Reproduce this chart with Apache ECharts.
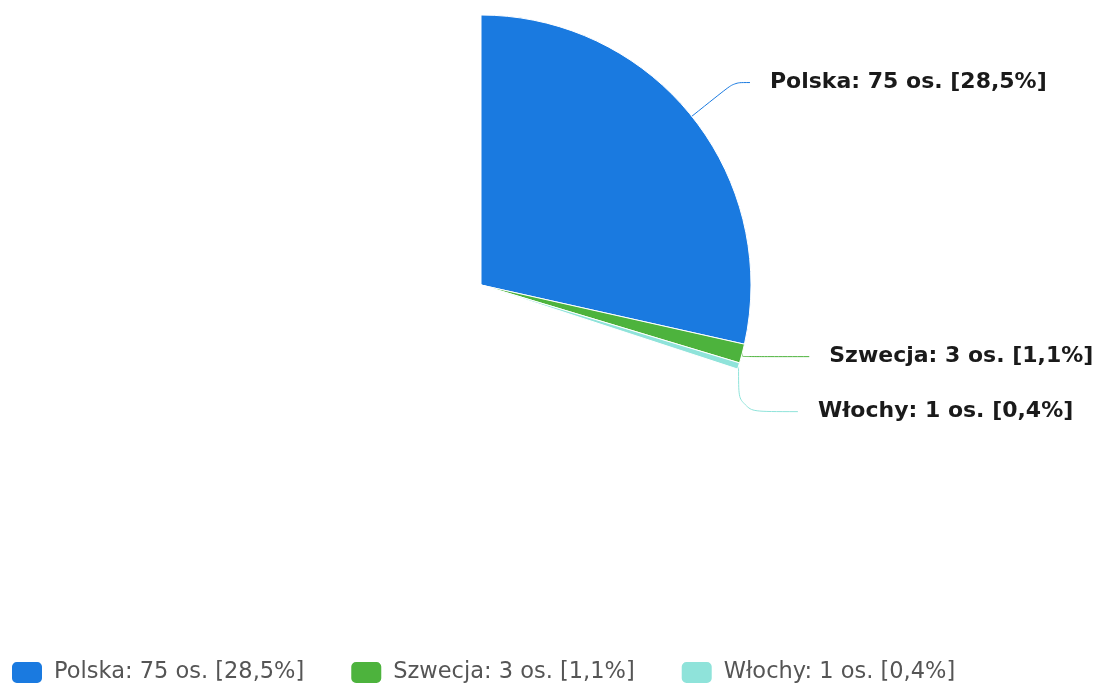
<!DOCTYPE html>
<html>
<head>
<meta charset="utf-8">
<script src="https://cdn.jsdelivr.net/npm/echarts@6/dist/echarts.min.js"></script>
<style>
html,body{margin:0;padding:0;background:#fff;}
#chart{width:1097px;height:689px;}
</style>
</head>
<body>
<div id="chart"></div>
<script>
// Data
const categories = ['Polska', 'Szwecja', 'Włochy'];
const values = [75, 3, 1];
const totalRespondents = 263; // total on which percentages are computed
const colors = ['#1a7ae0', '#4db33d', '#8fe3da'];
const labelLineLengths = [54, 12, 20];
const labelLineLengths2 = [16, 75, 76];

const fmtPct = v => (v * 100 / totalRespondents).toFixed(1).replace('.', ',');
const labelText = (name, v) => name + ': ' + v + ' os. [' + fmtPct(v) + '%]';

const restValue = totalRespondents - values.reduce((a, b) => a + b, 0);

const data = categories.map((c, i) => ({
  name: c,
  value: values[i],
  itemStyle: { color: colors[i] },
  labelLine: { length: labelLineLengths[i], length2: labelLineLengths2[i], lineStyle: { color: colors[i] } }
}));
data.push({
  name: '',
  value: restValue,
  itemStyle: { color: 'rgba(0,0,0,0)', borderWidth: 0 },
  label: { show: false },
  labelLine: { show: false },
  emphasis: { disabled: true },
  tooltip: { show: false }
});

const chart = echarts.init(document.getElementById('chart'), null, { renderer: 'canvas' });
chart.setOption({
  animation: false,
  color: colors,
  legend: {
    data: categories,
    left: 5,
    bottom: -1,
    padding: 5,
    icon: 'roundRect',
    itemWidth: 32,
    itemHeight: 23,
    itemGap: 45,
    formatter: name => labelText(name, values[categories.indexOf(name)]),
    textStyle: { fontFamily: 'DejaVu Sans', fontSize: 22.5, color: '#555', padding: [0, 0, 0, 6] }
  },
  series: [{
    type: 'pie',
    center: [481, 285],
    radius: 270,
    startAngle: 90,
    clockwise: true,
    avoidLabelOverlap: true,
    itemStyle: { borderColor: '#fff', borderWidth: 1 },
    label: {
      show: true,
      position: 'outside',
      overflow: 'none',
      distanceToLabelLine: 20,
      fontFamily: 'DejaVu Sans',
      fontWeight: 'bold',
      fontSize: 22,
      lineHeight: 53,
      color: '#1a1a1a',
      formatter: p => labelText(p.name, p.value)
    },
    labelLine: { show: true, smooth: 0.3, lineStyle: { width: 1 } },
    emphasis: { scale: false },
    data: data
  }]
});
</script>
</body>
</html>
